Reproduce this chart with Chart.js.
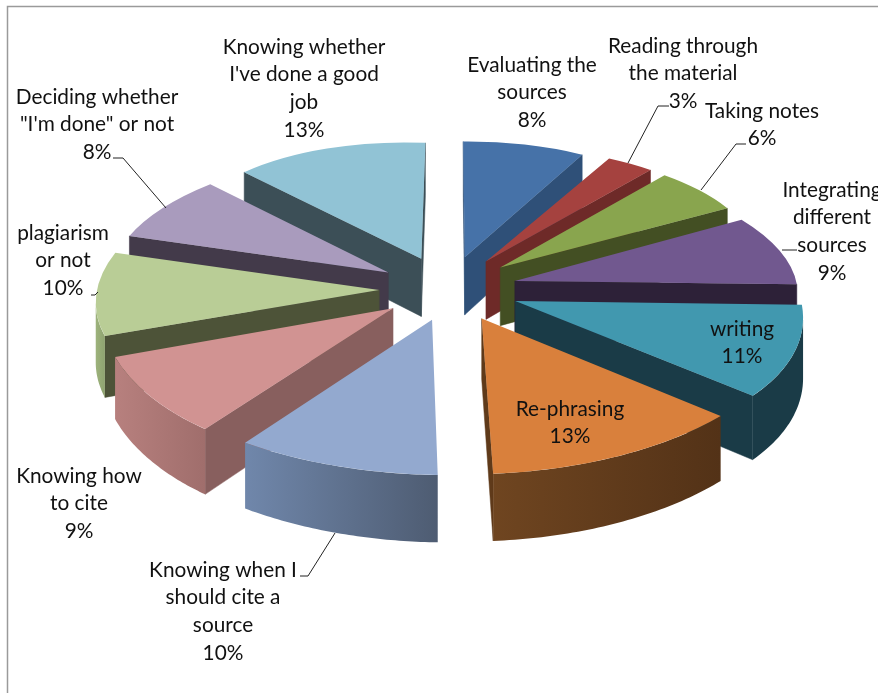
<!DOCTYPE html>
<html>
<head>
<meta charset="utf-8">
<style>html,body{margin:0;padding:0;background:#fff}canvas{display:block}</style>
<script src="https://cdn.jsdelivr.net/npm/chart.js@4/dist/chart.umd.js"></script>
</head>
<body>
<canvas id="c" width="878" height="693"></canvas>
<script>
const categories = ["Evaluating the sources","Reading through the material","Taking notes","Integrating different sources","writing","Re-phrasing","Knowing when I should cite a source","Knowing how to cite","plagiarism or not","Deciding whether \"I'm done\" or not","Knowing whether I've done a good job"];
const values = [8,3,6,9,11,13,10,9,10,8,13];
const labelLines = [["Evaluating the","sources"],["Reading through","the material"],["Taking notes"],["Integrating","different","sources"],["writing"],["Re-phrasing"],["Knowing when I","should cite a","source"],["Knowing how","to cite"],["plagiarism","or not"],["Deciding whether","\"I'm done\" or not"],["Knowing whether","I've done a good","job"]];
const faceColors = ["#4672A8","#A5423F","#89A54E","#71588F","#4198AF","#D9803C","#93A9CF","#D19392","#B9CD96","#A99BBD","#91C3D5"];
const cutColors = ["#2F5078","#6E2A28","#434F23","#2D2138","#1A3B47","#5F3A1A","#6C7A96","#885F5E","#4D5338","#433A4A","#3C4F57"];
const wallFrom = ["#2F5078","#6E2A28","#434F23","#2D2138","#1A3B47","#6F4520","#7087AB","#B7807E","#9DB37C","#8A7D9C","#3C4F57"];
const wallTo = ["#2F5078","#6E2A28","#434F23","#2D2138","#1A3B47","#533217","#4E5C72","#A06E6C","#8FA370","#433A4A","#3C4F57"];
const labelPos = [[532,65],[683,46],[762,111],[832,190],[742,329],[570,409],[223,570],[79,476],[63,233],[97,97],[304,47]];
const leaderLines = [[[628,163],[658,106],[669,106]],[[701,190],[736,144],[746,144]],[[782,250],[797,250]],[[335,533],[308,576],[300,576]],[[166,208],[123,158],[113,158]],[[91,295],[95,295],[98,292]]];
const view = {cx:448,cy:288,A:281,B:133,k:0.1,explode:0.245,depth:59};

const clamp01=t=>Math.max(0,Math.min(1,t));
// projection of the pie plane, with the skew of the original's camera
function project(u,v){
  const s=1/(1-view.k*v);
  let dx=0,dy=0;
  if(v>0) dx+=14*Math.min(1,Math.pow(v,0.6))*clamp01((u+1)/0.9)*clamp01((u+0.2)/0.1+(v-0.15)/0.15);
  dx+=9*clamp01((-v-0.2)/0.7)*clamp01(-u/0.5);
  dx+=4*clamp01((u-0.55)/0.07)*clamp01((1.05-u)/0.2);
  dx-=4*clamp01(1-Math.abs(u-1.115)/0.1)*clamp01(-v/0.3);
  dx-=3*clamp01((-v-1)/0.1)*clamp01((u-0.3)/0.2)*clamp01((0.6-u)/0.05);
  dy-= u<0 ? 5*clamp01((-u-0.3)/0.4)*clamp01((0.9-v)/0.5) : 5*clamp01((u-0.3)/0.4)*clamp01((v+0.6)/0.5);
  return {x:view.cx+view.A*u*s+dx,y:view.cy+view.B*v*s+dy,s};
}
function down(p){return {x:p.x,y:p.y+view.depth*p.s};}
function poly(ctx,pts,fill){
  ctx.beginPath();
  pts.forEach((p,i)=>i?ctx.lineTo(p.x,p.y):ctx.moveTo(p.x,p.y));
  ctx.closePath();
  ctx.fillStyle=fill;ctx.fill();
  ctx.strokeStyle=typeof fill==='string'?fill:'rgba(0,0,0,0)';ctx.lineWidth=0.5;ctx.stroke();
}
function drawSlice(ctx,el,i){
  const R=el.outerRadius,a0=el.startAngle,a1=el.endAngle,m=(a0+a1)/2;
  const ou=view.explode*Math.cos(m),ov=view.explode*Math.sin(m);
  const T0=project(ou,ov);
  const T1=project(ou+Math.cos(a0),ov+Math.sin(a0));
  const T2=project(ou+Math.cos(a1),ov+Math.sin(a1));
  const x1=R*Math.cos(a0),y1=R*Math.sin(a0),x2=R*Math.cos(a1),y2=R*Math.sin(a1);
  const det=x1*y2-x2*y1;
  const d1x=T1.x-T0.x,d1y=T1.y-T0.y,d2x=T2.x-T0.x,d2y=T2.y-T0.y;
  const a=(d1x*y2-d2x*y1)/det,c=(d2x*x1-d1x*x2)/det;
  const b=(d1y*y2-d2y*y1)/det,d=(d2y*x1-d1y*x2)/det;
  const map=t=>{
    const lx=R*Math.cos(t),ly=R*Math.sin(t);
    const x=T0.x+a*lx+c*ly,y=T0.y+b*lx+d*ly;
    const v=ov+Math.sin(t);
    return {x,y,s:1/(1-view.k*v)};
  };
  if(T1.x<T0.x) poly(ctx,[T0,T1,down(T1),down(T0)],cutColors[i]);
  if(T0.x<T2.x) poly(ctx,[T2,T0,down(T0),down(T2)],cutColors[i]);
  const steps=48,top=[];
  for(let n=0;n<=steps;n++){
    const p=map(a0+(a1-a0)*n/steps);
    if(top.length===0){top.push(p);continue;}
    const last=top[top.length-1];
    if(p.x<last.x) top.push(p);
    else if(top.length===1) top[0]=p;
  }
  if(top.length>1){
    const g=ctx.createLinearGradient(top[top.length-1].x,0,top[0].x,0);
    g.addColorStop(0,wallFrom[i]);g.addColorStop(1,wallTo[i]);
    poly(ctx,top.concat(top.map(down).reverse()),g);
  }
  ctx.save();
  ctx.transform(a,b,c,d,T0.x,T0.y);
  ctx.translate(-el.x,-el.y);
  el.draw(ctx);
  ctx.restore();
}
const pie3d={
  id:'pie3d',
  beforeDraw(chart){
    const ctx=chart.ctx;
    ctx.save();ctx.strokeStyle='#9A9A9A';ctx.lineWidth=1.5;
    ctx.beginPath();ctx.moveTo(7.5,693);ctx.lineTo(7.5,6.5);ctx.lineTo(878,6.5);ctx.stroke();ctx.restore();
  },
  beforeDatasetDraw(chart,args){
    const ctx=chart.ctx,els=chart.getDatasetMeta(args.index).data;
    const order=els.map((e,i)=>i).sort((p,q)=>
      Math.sin((els[p].startAngle+els[p].endAngle)/2)-Math.sin((els[q].startAngle+els[q].endAngle)/2));
    order.forEach(i=>drawSlice(ctx,els[i],i));
    return false;
  },
  afterDraw(chart){
    const ctx=chart.ctx;
    ctx.save();
    ctx.strokeStyle='#222';ctx.lineWidth=1;
    leaderLines.forEach(l=>{ctx.beginPath();l.forEach((p,i)=>i?ctx.lineTo(p[0],p[1]):ctx.moveTo(p[0],p[1]));ctx.stroke();});
    ctx.fillStyle='#111';ctx.font='20.8px Lato';ctx.textAlign='center';ctx.textBaseline='middle';
    labelLines.forEach((ls,i)=>{
      const all=ls.concat([values[i]+'%']);
      all.forEach((t,j)=>ctx.fillText(t,labelPos[i][0],labelPos[i][1]+j*27.7));
    });
    ctx.restore();
  }
};
new Chart(document.getElementById('c'),{
  type:'pie',
  data:{labels:categories,datasets:[{data:values,backgroundColor:faceColors,borderWidth:0,radius:285}]},
  options:{responsive:false,animation:false,plugins:{legend:{display:false},tooltip:{enabled:false}}},
  plugins:[pie3d]
});
</script>
</body>
</html>
